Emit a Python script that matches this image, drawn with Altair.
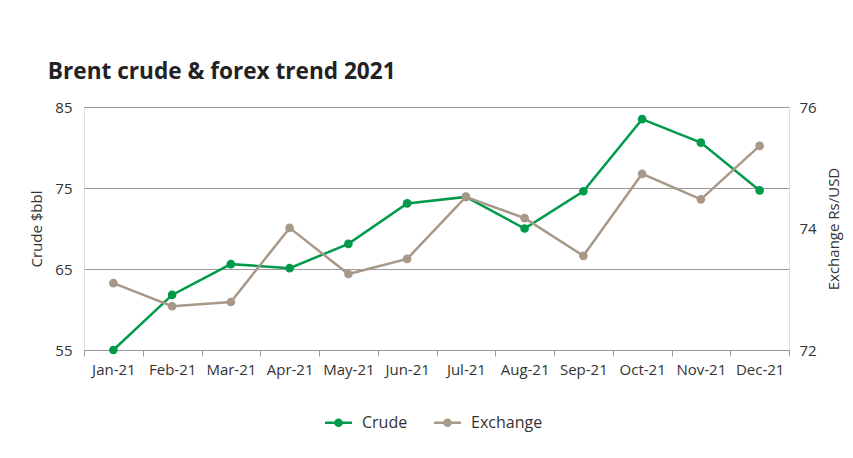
import altair as alt
import pandas as pd

months = ["Jan-21", "Feb-21", "Mar-21", "Apr-21", "May-21", "Jun-21",
          "Jul-21", "Aug-21", "Sep-21", "Oct-21", "Nov-21", "Dec-21"]
crude = [55.0, 61.8, 65.6, 65.1, 68.1, 73.1, 73.9, 70.0, 74.6, 83.5, 80.6, 74.7]
exchange = [73.10, 72.72, 72.79, 74.01, 73.25, 73.50, 74.52, 74.17, 73.55, 74.90, 74.48, 75.36]
series_names = ["Crude", "Exchange"]
series_colors = ["#009a4a", "#a89888"]

df_c = pd.DataFrame({"month": months, "value": crude, "series": "Crude"})
df_e = pd.DataFrame({"month": months, "value": exchange, "series": "Exchange"})

FONT = "Open Sans"
LBL = "#333333"

x_enc = alt.X("month:N", sort=months, title=None,
              scale=alt.Scale(type="band", paddingInner=0, paddingOuter=0),
              axis=alt.Axis(labelAngle=0, tickBand="extent", domainColor="#999999",
                            tickColor="#999999", tickSize=6, labelPadding=6,
                            labelFontSize=15, labelColor=LBL, labelFont=FONT, grid=False))
color_enc = alt.Color("series:N",
                      scale=alt.Scale(domain=series_names, range=series_colors),
                      legend=alt.Legend(title=None, orient="none", direction="horizontal",
                                        legendX=241, legendY=302,
                                        symbolType="M-1,-0.09H1V0.09H-1Z M0.32,0A0.32,0.32 0 1,1 -0.32,0A0.32,0.32 0 1,1 0.32,0Z",
                                        symbolSize=729, symbolStrokeWidth=0,
                                        labelFontSize=16, labelColor=LBL, labelFont=FONT,
                                        labelOffset=10, columnPadding=26))

y_c = alt.Y("value:Q", title="Crude $bbl",
            scale=alt.Scale(domain=[55, 85], nice=False, zero=False),
            axis=alt.Axis(values=[55, 65, 75, 85], orient="left", domain=False, ticks=False,
                          gridColor="#9a9a9a", gridWidth=1, labelPadding=12,
                          labelFontSize=15, labelColor=LBL, labelFont=FONT,
                          titleFontSize=15, titleColor=LBL, titleFont=FONT,
                          titleFontWeight="normal", titlePadding=10))
y_e = alt.Y("value:Q", title="Exchange Rs/USD",
            scale=alt.Scale(domain=[72, 76], nice=False, zero=False),
            axis=alt.Axis(values=[72, 74, 76], orient="right", domain=False, ticks=False,
                          grid=False, labelPadding=10,
                          labelFontSize=15, labelColor=LBL, labelFont=FONT,
                          titleFontSize=15, titleColor=LBL, titleFont=FONT,
                          titleFontWeight="normal", titlePadding=25, titleAngle=270))

def series_layer(df, y):
    base = alt.Chart(df).encode(x=x_enc, y=y, color=color_enc)
    return alt.layer(base.mark_line(strokeWidth=2.5),
                     base.mark_point(filled=True, size=75, opacity=1))

chart = alt.layer(series_layer(df_c, y_c), series_layer(df_e, y_e)).resolve_scale(
    y="independent"
).properties(
    width=705, height=243,
    title=alt.TitleParams("Brent crude & forex trend 2021", anchor="start", font=FONT,
                          fontSize=22.6, fontWeight="bold", color="#222222",
                          dx=18, offset=16),
    autosize=alt.AutoSizeParams(type="none"),
    padding={"left": 76, "top": 99, "right": 56, "bottom": 92},
).configure_view(stroke=None).configure(background="white")

chart.save("out.html", embed_options={"renderer": "svg", "actions": False})
